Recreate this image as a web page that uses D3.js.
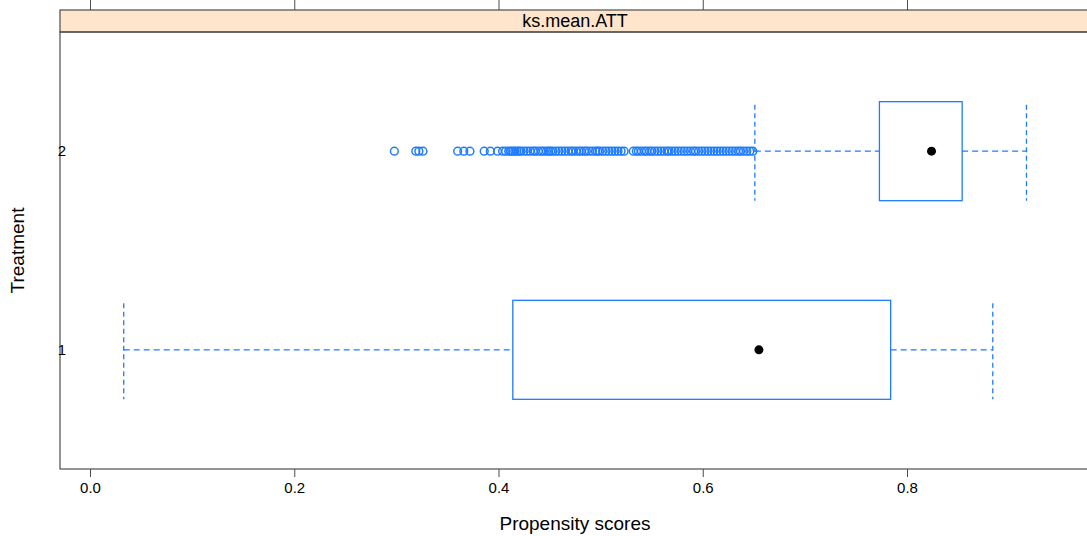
<!DOCTYPE html>
<html>
<head>
<meta charset="utf-8">
<script src="https://cdn.jsdelivr.net/npm/d3@7"></script>
<style>
  body { margin: 0; background: #fff; }
  svg { display: block; font-family: "Liberation Sans", Arial, sans-serif; }
</style>
</head>
<body>
<div id="chart"></div>
<script>
// box stats per treatment group: lower whisker, Q1, median, Q3, upper whisker
const groups = [1, 2];
const lowWhisker = [0.033, 0.651];
const q1 = [0.414, 0.773];
const medians = [0.655, 0.824];
const q3 = [0.784, 0.854];
const highWhisker = [0.884, 0.917];

// outliers only in group 2 (low side)
const outliers2 = [
  0.298, 0.319, 0.322, 0.326, 0.360, 0.366, 0.372, 0.386, 0.392, 0.399,
  0.404, 0.407, 0.410, 0.412, 0.414, 0.416, 0.418, 0.420, 0.422, 0.425,
  0.428, 0.431, 0.434, 0.436, 0.439, 0.442, 0.444, 0.447, 0.449, 0.451,
  0.453, 0.456, 0.459, 0.462, 0.465, 0.468, 0.471, 0.473, 0.476, 0.479,
  0.481, 0.484, 0.486, 0.489, 0.492, 0.495, 0.497, 0.499, 0.502, 0.505,
  0.508, 0.511, 0.514, 0.517, 0.520, 0.523, 0.532, 0.535, 0.537, 0.540,
  0.543, 0.545, 0.548, 0.550, 0.553, 0.556, 0.559, 0.562, 0.565, 0.567,
  0.570, 0.573, 0.576, 0.579, 0.582, 0.585, 0.588, 0.591, 0.593, 0.596,
  0.599, 0.602, 0.605, 0.608, 0.611, 0.614, 0.617, 0.620, 0.623, 0.626,
  0.629, 0.632, 0.635, 0.637, 0.640, 0.643, 0.646, 0.649
];

const xTicks = [0.0, 0.2, 0.4, 0.6, 0.8];
const stripLabel = 'ks.mean.ATT';
const xTitle = 'Propensity scores';
const yTitle = 'Treatment';

const W = 1087, H = 536;
const panel = { left: 60, right: 1090, top: 10, stripBottom: 32, bottom: 469 };
const blue = '#1f7bff';
const axisCol = '#4d4d4d';
const font = '"Liberation Sans", Arial, sans-serif';

const svg = d3.select('#chart').append('svg')
  .attr('width', W)
  .attr('height', H);

const x = d3.scaleLinear()
  .domain([-0.0294, 0.9792])
  .range([panel.left, panel.right]);

const y = d3.scaleLinear()
  .domain([0.4, 2.6])
  .range([panel.bottom, panel.stripBottom]);

const boxHalf = 49.5;

// strip
svg.append('rect')
  .attr('x', panel.left).attr('y', panel.top)
  .attr('width', panel.right - panel.left)
  .attr('height', panel.stripBottom - panel.top)
  .attr('fill', '#ffe5cc')
  .attr('stroke', axisCol).attr('stroke-width', 1.2);

svg.append('text')
  .attr('x', (panel.left + panel.right) / 2)
  .attr('y', (panel.top + panel.stripBottom) / 2 + 6)
  .attr('text-anchor', 'middle')
  .attr('font-size', 18)
  .text(stripLabel);

// panel box
svg.append('rect')
  .attr('x', panel.left).attr('y', panel.stripBottom)
  .attr('width', panel.right - panel.left)
  .attr('height', panel.bottom - panel.stripBottom)
  .attr('fill', 'none')
  .attr('stroke', axisCol).attr('stroke-width', 1.2);

// bottom axis
const xAxis = svg.append('g')
  .attr('transform', `translate(0,${panel.bottom})`)
  .call(d3.axisBottom(x).tickValues(xTicks).tickFormat(d3.format('.1f')).tickSize(8).tickPadding(5));
xAxis.select('.domain').remove();
xAxis.selectAll('line').attr('stroke', axisCol);
xAxis.selectAll('text').attr('font-size', 15).attr('font-family', font).attr('fill', '#000');

// top ticks (no labels)
const xTop = svg.append('g')
  .attr('transform', `translate(0,${panel.top})`)
  .call(d3.axisTop(x).tickValues(xTicks).tickFormat('').tickSize(10));
xTop.select('.domain').remove();
xTop.selectAll('line').attr('stroke', axisCol);

// left axis labels
const yAxis = svg.append('g')
  .attr('transform', `translate(${panel.left},0)`)
  .call(d3.axisLeft(y).tickValues(groups).tickFormat(d3.format('d')).tickSize(0).tickPadding(0));
yAxis.select('.domain').remove();
yAxis.selectAll('text').attr('font-size', 15).attr('font-family', font).attr('fill', '#000')
  .attr('text-anchor', 'middle').attr('x', 2);

// axis titles
svg.append('text')
  .attr('x', (panel.left + panel.right) / 2)
  .attr('y', 530)
  .attr('text-anchor', 'middle')
  .attr('font-size', 19)
  .text(xTitle);

svg.append('text')
  .attr('transform', `translate(24,${(panel.stripBottom + panel.bottom) / 2}) rotate(-90)`)
  .attr('text-anchor', 'middle')
  .attr('font-size', 19)
  .text(yTitle);

// boxes
const g = svg.append('g');
groups.forEach((grp, i) => {
  const cy = y(grp);
  // whiskers
  g.append('line')
    .attr('x1', x(lowWhisker[i])).attr('x2', x(q1[i]))
    .attr('y1', cy).attr('y2', cy)
    .attr('stroke', blue).attr('stroke-dasharray', '6,4').attr('stroke-width', 1.3);
  g.append('line')
    .attr('x1', x(q3[i])).attr('x2', x(highWhisker[i]))
    .attr('y1', cy).attr('y2', cy)
    .attr('stroke', blue).attr('stroke-dasharray', '6,4').attr('stroke-width', 1.3);
  [lowWhisker[i], highWhisker[i]].forEach(v => {
    g.append('line')
      .attr('x1', x(v)).attr('x2', x(v))
      .attr('y1', cy - boxHalf + 3).attr('y2', cy + boxHalf)
      .attr('stroke', blue).attr('stroke-dasharray', '5,3.5').attr('stroke-width', 1.3);
  });
  g.append('rect')
    .attr('x', x(q1[i])).attr('y', cy - boxHalf)
    .attr('width', x(q3[i]) - x(q1[i]))
    .attr('height', boxHalf * 2)
    .attr('fill', 'none')
    .attr('stroke', blue).attr('stroke-width', 1.3);
  g.append('circle')
    .attr('cx', x(medians[i])).attr('cy', cy)
    .attr('r', 4.5).attr('fill', '#000');
});

// outliers
g.selectAll('.outlier')
  .data(outliers2)
  .enter()
  .append('circle')
  .attr('class', 'outlier')
  .attr('cx', d => x(d))
  .attr('cy', y(2))
  .attr('r', 3.9)
  .attr('fill', 'none')
  .attr('stroke', blue)
  .attr('stroke-width', 1.5);
</script>
</body>
</html>
